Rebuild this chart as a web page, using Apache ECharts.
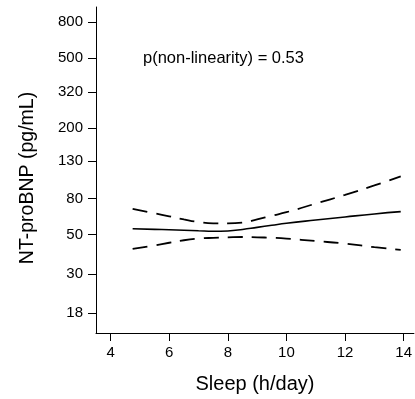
<!DOCTYPE html>
<html>
<head>
<meta charset="utf-8">
<script src="https://cdn.jsdelivr.net/npm/echarts@6/dist/echarts.min.js"></script>
<style>
  html, body { margin: 0; padding: 0; background: #fff; }
  #main { width: 415px; height: 399px; }
</style>
</head>
<body>
<div id="main"></div>
<script>
// sleep hours along the curve
const sleepHours = [4.75, 5.5, 6, 6.5, 7, 7.5, 8, 8.5, 9, 9.5, 10, 11, 12, 13, 13.9];
// estimated NT-proBNP (pg/mL) and 95% CI
const estimate = [54, 53.6, 53.3, 53, 52.6, 52.3, 52.5, 53.5, 55, 56.5, 58, 60.5, 63, 65.5, 67.5];
const upperCI = [70, 66, 63.5, 61, 59, 58, 58, 58.5, 61, 64, 67, 75, 84, 95, 107];
const lowerCI = [41.5, 43.5, 45, 46.5, 47.5, 48, 48.3, 48.5, 48.3, 48, 47.5, 46, 44.5, 42.5, 41];
const xTicks = [4, 6, 8, 10, 12, 14];
const yTicks = [18, 30, 50, 80, 130, 200, 320, 500, 800];

const pairs = ys => sleepHours.map((x, i) => [x, ys[i]]);

var myChart = echarts.init(document.getElementById('main'));
const font = 'Liberation Sans, Arial, sans-serif';

var option = {
  backgroundColor: '#fff',
  animation: false,
  grid: { left: 96, right: 0, top: 7, bottom: 65 },
  xAxis: {
    type: 'value',
    min: 3.5,
    max: 14.35,
    name: 'Sleep (h/day)',
    nameLocation: 'middle',
    nameGap: 41,
    nameTextStyle: { fontFamily: font, fontSize: 20, color: '#000' },
    axisLine: { lineStyle: { color: '#000', width: 1 } },
    axisTick: { show: true, length: 8, lineStyle: { color: '#000' }, customValues: xTicks },
    axisLabel: { fontFamily: font, fontSize: 15, color: '#000', margin: 12, customValues: xTicks },
    splitLine: { show: false }
  },
  yAxis: {
    type: 'log',
    min: 13.88,
    max: 972,
    axisLine: { show: true, lineStyle: { color: '#000', width: 1 } },
    axisTick: { show: true, length: 8, lineStyle: { color: '#000' }, customValues: yTicks },
    axisLabel: { fontFamily: font, fontSize: 15, color: '#000', margin: 13, customValues: yTicks },
    splitLine: { show: false }
  },
  graphic: [
    {
      type: 'text',
      left: 143, top: 50,
      style: { text: 'p(non-linearity) = 0.53', font: '16.5px ' + font, fill: '#000' }
    },
    {
      type: 'text',
      x: 28, y: 178,
      rotation: Math.PI / 2,
      style: {
        text: 'NT-proBNP (pg/mL)', font: '19.5px ' + font, fill: '#000',
        align: 'center', verticalAlign: 'middle'
      }
    }
  ],
  series: [
    {
      type: 'line', data: pairs(estimate), smooth: true, showSymbol: false,
      lineStyle: { color: '#000', width: 1.6, type: 'solid' }
    },
    {
      type: 'line', data: pairs(upperCI), smooth: true, showSymbol: false,
      lineStyle: { color: '#000', width: 1.8, type: [15, 9] }
    },
    {
      type: 'line', data: pairs(lowerCI), smooth: true, showSymbol: false,
      lineStyle: { color: '#000', width: 1.8, type: [15, 9] }
    }
  ]
};

option && myChart.setOption(option, true);
window.onresize = () => { myChart.resize(); };
</script>
</body>
</html>
